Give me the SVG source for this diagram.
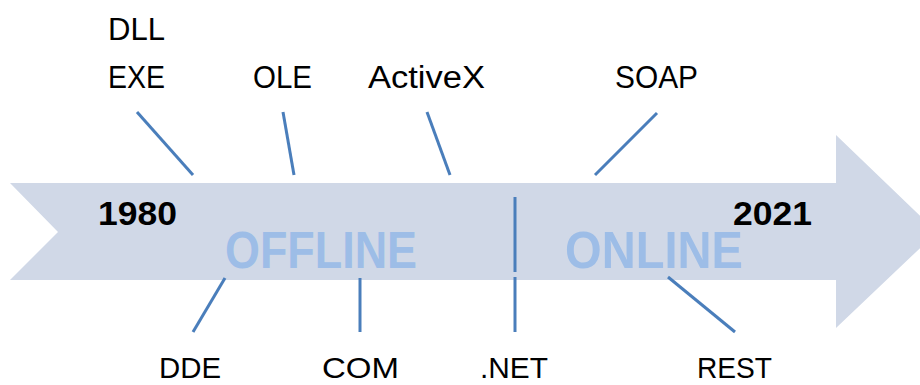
<svg xmlns="http://www.w3.org/2000/svg" width="920" height="385" viewBox="0 0 920 385">
<style>
.lbl{font-family:"Liberation Sans",Arial,sans-serif;font-size:31px;fill:#000}
.lblb{font-family:"Liberation Sans",Arial,sans-serif;font-size:30px;fill:#000}
.yr{font-family:"Liberation Sans",Arial,sans-serif;font-size:34px;font-weight:bold;fill:#000}
.era{font-family:"Liberation Sans",Arial,sans-serif;font-size:51px;font-weight:bold;fill:#9DBDE7}
.ln{stroke:#4A7EBB;stroke-width:3;fill:none}
</style>
<rect width="920" height="385" fill="#fff"/>
<g id="arrow">
<polygon points="10,183 836,183 836,135 937,232 836,328 836,280 10,280 58,232" fill="#D0D8E7"/>
<text class="yr" x="98" y="225" textLength="79" lengthAdjust="spacingAndGlyphs">1980</text>
<text class="yr" x="733" y="225" textLength="79" lengthAdjust="spacingAndGlyphs">2021</text>
<text class="era" x="225" y="268" textLength="192" lengthAdjust="spacingAndGlyphs">OFFLINE</text>
<text class="era" x="565" y="268" textLength="178" lengthAdjust="spacingAndGlyphs">ONLINE</text>
</g>
<g id="connectors">
<line class="ln" x1="137" y1="112" x2="193" y2="175"/>
<line class="ln" x1="283" y1="112" x2="294" y2="175"/>
<line class="ln" x1="427" y1="112" x2="450" y2="175"/>
<line class="ln" x1="657" y1="113" x2="595" y2="175"/>
<line class="ln" x1="515" y1="197" x2="515" y2="272"/>
<line class="ln" x1="225" y1="278" x2="193" y2="332"/>
<line class="ln" x1="360" y1="278" x2="360" y2="332"/>
<line class="ln" x1="515" y1="277" x2="515" y2="332"/>
<line class="ln" x1="668" y1="277" x2="735" y2="332"/>
</g>
<g id="dll-exe"><text class="lbl" x="108" y="40" textLength="57" lengthAdjust="spacingAndGlyphs">DLL</text><text class="lbl" x="108" y="88" textLength="57" lengthAdjust="spacingAndGlyphs">EXE</text></g>
<g id="ole"><text class="lbl" x="253" y="88" textLength="59" lengthAdjust="spacingAndGlyphs">OLE</text></g>
<g id="activex"><text class="lbl" x="368" y="88" textLength="117" lengthAdjust="spacingAndGlyphs">ActiveX</text></g>
<g id="soap"><text class="lbl" x="615" y="88" textLength="83" lengthAdjust="spacingAndGlyphs">SOAP</text></g>
<g id="dde"><text class="lblb" x="159" y="378" textLength="62" lengthAdjust="spacingAndGlyphs">DDE</text></g>
<g id="com"><text class="lblb" x="322" y="378" textLength="77" lengthAdjust="spacingAndGlyphs">COM</text></g>
<g id="net"><text class="lblb" x="480" y="378" textLength="68" lengthAdjust="spacingAndGlyphs">.NET</text></g>
<g id="rest"><text class="lblb" x="697" y="378" textLength="75" lengthAdjust="spacingAndGlyphs">REST</text></g>
</svg>
